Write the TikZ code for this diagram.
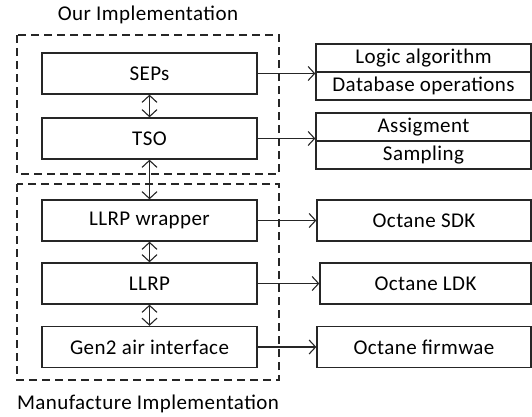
\documentclass[tikz,border=0pt]{standalone}
\usepackage{fontspec}
\setmainfont[LetterSpace=2]{Carlito}
\usetikzlibrary{arrows.meta}
\begin{document}
\begin{tikzpicture}[x=1pt,y=1pt,
  every node/.style={font=\fontsize{21}{24}\selectfont},
  blk/.style={draw=black!85, line width=1.3pt, minimum height=41pt, inner sep=0pt},
  half/.style={draw=black!85, line width=1.3pt, minimum height=28pt, minimum width=215pt, inner sep=0pt},
  grp/.style={draw=black!85, line width=1.2pt, dash pattern=on 8pt off 5pt},
  conn/.style={line width=1.2pt, draw=black!85, -{Straight Barb[length=6.5pt,width=14pt,line width=1.1pt]}},
  dconn/.style={line width=1.2pt, draw=black!85, {Straight Barb[length=7pt,width=15pt,line width=1.1pt]}-{Straight Barb[length=7pt,width=15pt,line width=1.1pt]}}]
\useasboundingbox (0,0) rectangle (532,416);
% groups
\draw[grp] (17,381) rectangle (279,242);
\draw[grp] (17,232) rectangle (279,36);
\node (t1) at (148,401) {Our Implementation};
\node (t2) at (148,12) {Manufacture Implementation};
% left blocks
\node[blk, minimum width=215pt] (sep) at (149.5,342.5) {SEPs};
\node[blk, minimum width=215pt] (tso) at (149.5,277.5) {TSO};
\node[blk, minimum width=215pt] (wrap) at (149.5,195.5) {LLRP wrapper};
\node[blk, minimum width=215pt] (llrp) at (149.5,132.5) {LLRP};
\node[blk, minimum width=215pt] (gen) at (149.5,69) {Gen2 air interface};
% right blocks
\node[half] (logic) at (423.5,358) {Logic algorithm};
\node[half] (db) at (423.5,330) {Database operations};
\node[half] (asg) at (423.5,289) {Assigment};
\node[half] (smp) at (423.5,261) {Sampling};
\node[blk, minimum width=214pt] (sdk) at (424,195.5) {Octane SDK};
\node[blk, minimum width=211pt] (ldk) at (425.5,132.5) {Octane LDK};
\node[blk, minimum width=214pt] (fw) at (424,69) {Octane firmwae};
% vertical double arrows
\draw[dconn] (sep.south) -- (tso.north);
\draw[dconn] (tso.south) -- (wrap.north);
\draw[dconn] (wrap.south) -- (llrp.north);
\draw[dconn] (llrp.south) -- (gen.north);
% horizontal arrows
\draw[conn] (sep.east) -- (sep.east -| logic.south west);
\draw[conn] (tso.east) -- (tso.east -| asg.south west);
\draw[conn] (wrap.east) -- (sdk.west);
\draw[conn] (llrp.east) -- (ldk.west);
\draw[conn] (gen.east) -- (fw.west);
\end{tikzpicture}
\end{document}
